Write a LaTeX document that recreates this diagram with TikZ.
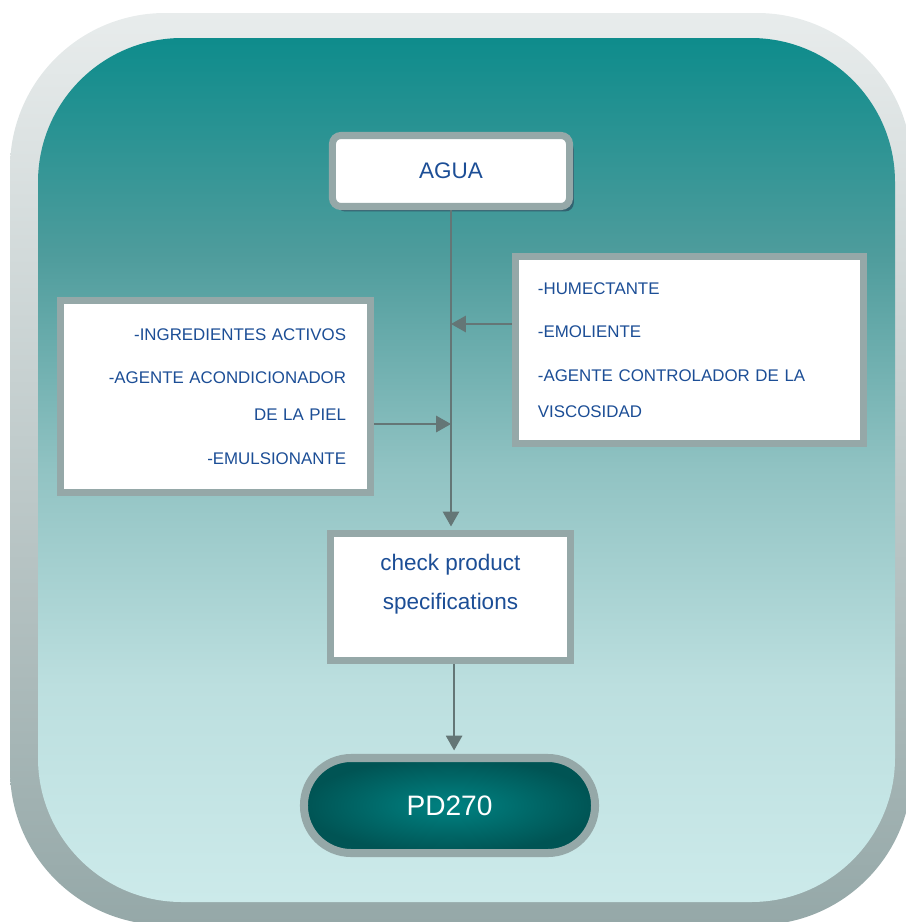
\documentclass[tikz,border=0pt]{standalone}
\usepackage{fontspec}
\setmainfont{Liberation Sans}
\usepackage{tikz}
\usetikzlibrary{arrows.meta,shadows,calc}
\definecolor{frametop}{RGB}{232,236,236}
\definecolor{framebot}{RGB}{149,168,168}
\definecolor{tealhi}{RGB}{14,140,140}
\definecolor{tealma}{RGB}{78,156,156}
\definecolor{tealmb}{RGB}{145,195,195}
\definecolor{tealmc}{RGB}{188,223,223}
\definecolor{teallo}{RGB}{204,234,234}
\definecolor{boxgray}{RGB}{149,168,168}
\definecolor{linkgray}{RGB}{100,118,118}
\definecolor{textblue}{RGB}{28,78,150}
\definecolor{pdin}{RGB}{0,130,130}
\definecolor{pdout}{RGB}{0,84,84}
\definecolor{shadowteal}{RGB}{50,98,112}
\pgfdeclareverticalshading{tealfade}{100bp}{color(0bp)=(teallo); color(25bp)=(teallo); color(37.5bp)=(tealmc); color(50bp)=(tealmb); color(62.5bp)=(tealma); color(75bp)=(tealhi); color(100bp)=(tealhi)}
\tikzset{
  box/.style={draw=boxgray, line width=5pt, fill=white, text=textblue, inner sep=0pt},
  flow/.style={draw=linkgray, line width=1.4pt, -{Triangle[length=10.5pt,width=11.5pt]}},
}

\begin{document}
\begin{tikzpicture}[x=0.025cm,y=-0.025cm]
\useasboundingbox (0,0) rectangle (906,922);
\clip (0,0) rectangle (906,922);
% frame
\shade[top color=frametop, bottom color=framebot, rounded corners=3.875cm] (10,13) rectangle (912,925);
\shade[shading=tealfade, rounded corners=3.6cm] (38,38) rectangle (895,902);

\node[box, rounded corners=6pt, minimum width=5.925cm, minimum height=1.775cm,
  font=\fontsize{16}{19}\selectfont,
  drop shadow={shadow xshift=3pt, shadow yshift=-3.5pt, fill=shadowteal, opacity=1}]
  (agua) at (451,171) {AGUA};

\node[box, minimum height=4.8cm, text width=6.525cm, inner xsep=0.6125cm, align=right,
  font=\fontsize{12}{26.5}\selectfont] (activos) at (215.5,396.5)
  {-INGREDIENTES ACTIVOS\\[4.5pt]
   -AGENTE ACONDICIONADOR\\
   DE LA PIEL\\[4.5pt]
   -EMULSIONANTE};

\node[box, minimum height=4.675cm, text width=7.575cm, inner xsep=0.5625cm, align=left,
  font=\fontsize{12}{25.5}\selectfont] (humect) at (689.5,350)
  {-HUMECTANTE\\[5.5pt]
   -EMOLIENTE\\[5.5pt]
   -AGENTE CONTROLADOR DE LA\\
   VISCOSIDAD};

\node[box, minimum width=6cm, minimum height=3.175cm, align=center, text depth=22pt,
  font=\fontsize{16}{27.7}\selectfont] (check) at (450.5,597)
  {check product\\specifications};

\node[draw=boxgray, line width=5.7pt, inner color=pdin, outer color=pdout, text=white,
  rounded corners=1.18cm, minimum width=7.275cm, minimum height=2.375cm,
  font=\fontsize{20}{24}\selectfont] (pd) at (449.5,805.5) {PD270};

% connectors
\coordinate (rin) at ([yshift=0.65cm]humect.west);
\coordinate (lin) at ([yshift=-0.6875cm]activos.east);
\draw[flow, shorten >=2.5pt] (agua.south) -- (agua.south |- check.north);
\draw[flow] (rin) -- (rin -| agua.south);
\draw[flow] (lin) -- (lin -| agua.south);
\draw[flow, shorten >=2.5pt] ([xshift=0.09cm]check.south) -- ([xshift=0.09cm]check.south |- pd.north);
\end{tikzpicture}
\end{document}
